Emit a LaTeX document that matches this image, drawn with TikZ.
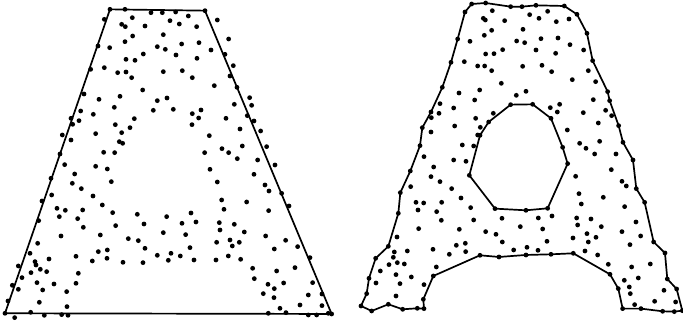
\documentclass[tikz,border=0pt]{standalone}
\begin{document}
\begin{tikzpicture}[x=1pt,y=-1pt,
  edge/.style={line width=1.7pt, line join=round},
  dotr/.style={fill=black}]
\useasboundingbox (0,0) rectangle (683,323);
% ---------- left panel: convex hull ----------
\begin{scope}[x=0.3333pt,y=-0.3333pt]
\draw[edge] (330,28) -- (615,32) -- (995,942) -- (15,940) -- cycle;
\foreach \a/\b in {375/28,453/38,487/38,527/36,565/48,397/53,313/58,510/62,538/72,590/80,652/60,365/73,376/80,435/78,490/104,398/108,686/117,375/125,294/138,329/143,472/140,496/148,545/132,597/128,633/150,430/162,528/165,591/175,378/178,405/181,675/163,700/197,313/203,272/208,353/218,378/216,490/215,547/212,395/233,577/233,690/228,428/270,643/257,711/262,252/282,297/298,360/289,472/302,501/294,749/293,755/316,343/322,460/331,520/328,603/330,577/341,596/354,576/374,703/313,242/333,213/355,280/343,237/362,218/373,403/356,346/374,390/383,678/355,742/347,762/363,720/387,782/393,187/405,213/420,287/401,365/398,358/425,368/430,628/407,727/438,800/440,666/446,686/458,180/462,311/457,344/458,614/458,712/476,773/480,825/495,194/494,287/499,322/507,630/508,224/522,153/535,217/550,334/545,652/546,762/523,795/555,244/566,807/573,845/580,126/603,155/585,279/588,307/615,665/600,740/606,867/618,171/625,196/631,248/630,338/638,672/628,806/632,178/650,233/656,116/662,412/643,500/650,573/639,588/666,546/670,432/672,347/677,658/668,703/673,660/690,250/682,183/708,301/705,385/716,415/722,490/698,557/704,733/696,797/708,857/721,113/730,90/760,650/727,690/720,718/727,697/738,570/743,435/745,823/747,295/755,322/750,105/785,108/795,147/777,228/769,277/783,321/775,369/787,429/788,472/766,513/760,505/781,541/768,582/780,648/780,685/768,722/778,893/740,930/773,55/798,66/833,93/818,121/808,140/815,111/848,128/870,162/852,235/820,228/850,200/875,758/805,830/813,885/803,37/856,55/868,763/836,804/853,851/849,823/866,790/881,822/893,925/885,938/848,966/882,24/903,118/907,201/920,840/925,858/938,900/915,966/917,44/953,92/937,133/946,185/944,204/946,805/940,925/945,950/945,985/940,330/28,615/32,995/942,15/940}
  \fill[dotr] (\a,\b) circle[radius=2.4pt];
\end{scope}
% ---------- right panel: alpha shape ----------
\begin{scope}[shift={(340pt,0pt)},x=0.3333pt,y=-0.3333pt]
\draw[edge] (395,12) -- (437,9) -- (512,20) -- (546,20) -- (588,16) -- (673,18) -- (711,43) -- (741,100) -- (758,182) -- (803,275) -- (809,302) -- (836,377) -- (849,427) -- (879,480) -- (889,566) -- (914,607) -- (941,726) -- (975,759) -- (982,837) -- (1010,867) -- (1027,932) -- (1003,935) -- (968,934) -- (903,926) -- (848,926) -- (835,866) -- (810,823) -- (700,760) -- (633,763) -- (558,765) -- (477,771) -- (420,766) -- (280,828) -- (250,898) -- (252,926) -- (232,925) -- (188,928) -- (145,913) -- (95,933) -- (63,918) -- (80,881) -- (87,835) -- (107,775) -- (145,739) -- (175,640) -- (181,578) -- (211,513) -- (240,437) -- (247,383) -- (273,336) -- (307,262) -- (333,187) -- (353,117) -- (375,36) -- cycle;
\draw[edge] (512,314) -- (578,313) -- (633,355) -- (668,442) -- (683,491) -- (623,625) -- (558,631) -- (465,626) -- (388,526) -- (420,406) -- (446,366) -- cycle;
\foreach \a/\b in {395/12,437/9,512/20,546/20,588/16,673/18,711/43,741/100,758/182,803/275,809/302,836/377,849/427,879/480,889/566,914/607,941/726,975/759,982/837,1010/867,1027/932,1003/935,968/934,903/926,848/926,835/866,810/823,700/760,633/763,558/765,477/771,420/766,280/828,250/898,252/926,232/925,188/928,145/913,95/933,63/918,80/881,87/835,107/775,145/739,175/640,181/578,211/513,240/437,247/383,273/336,307/262,333/187,353/117,375/36,
512/314,578/313,633/355,668/442,683/491,623/625,558/631,465/626,388/526,420/406,446/366,
457/32,430/55,436/60,494/62,455/91,433/106,390/124,437/162,462/161,488/149,373/185,413/198,434/198,455/212,484/250,419/270,357/279,404/300,300/311,341/324,297/340,274/353,460/340,407/355,344/378,421/382,273/396,413/405,367/435,401/438,252/470,341/480,378/484,
569/44,597/55,623/34,649/65,687/57,549/88,530/123,554/128,603/116,654/114,588/150,647/160,690/134,731/150,548/199,606/196,635/215,745/212,697/239,767/245,558/274,529/286,760/299,659/313,631/323,652/336,797/331,730/338,815/347,775/369,682/390,719/430,738/445,779/424,764/462,828/462,
281/501,273/530,300/545,212/560,335/566,363/594,228/607,251/609,305/607,234/630,290/635,392/623,304/661,401/660,486/655,236/686,358/688,437/695,468/703,171/711,376/730,349/736,487/726,202/753,279/748,377/755,328/763,163/756,160/772,147/794,172/788,193/792,121/813,168/824,214/831,289/801,108/849,180/851,252/854,168/888,
707/529,814/509,846/544,859/558,717/581,790/592,724/612,854/620,636/648,595/654,710/654,753/657,541/680,608/687,713/675,784/680,888/666,741/701,768/712,699/714,846/695,902/708,621/724,745/726,870/734,521/750,561/742,594/751,735/753,773/765,805/793,875/801,931/792,895/834,853/841,868/861,871/881,972/871,884/914,944/904,1007/906}
  \fill[dotr] (\a,\b) circle[radius=2.4pt];
\end{scope}
\end{tikzpicture}
\end{document}
